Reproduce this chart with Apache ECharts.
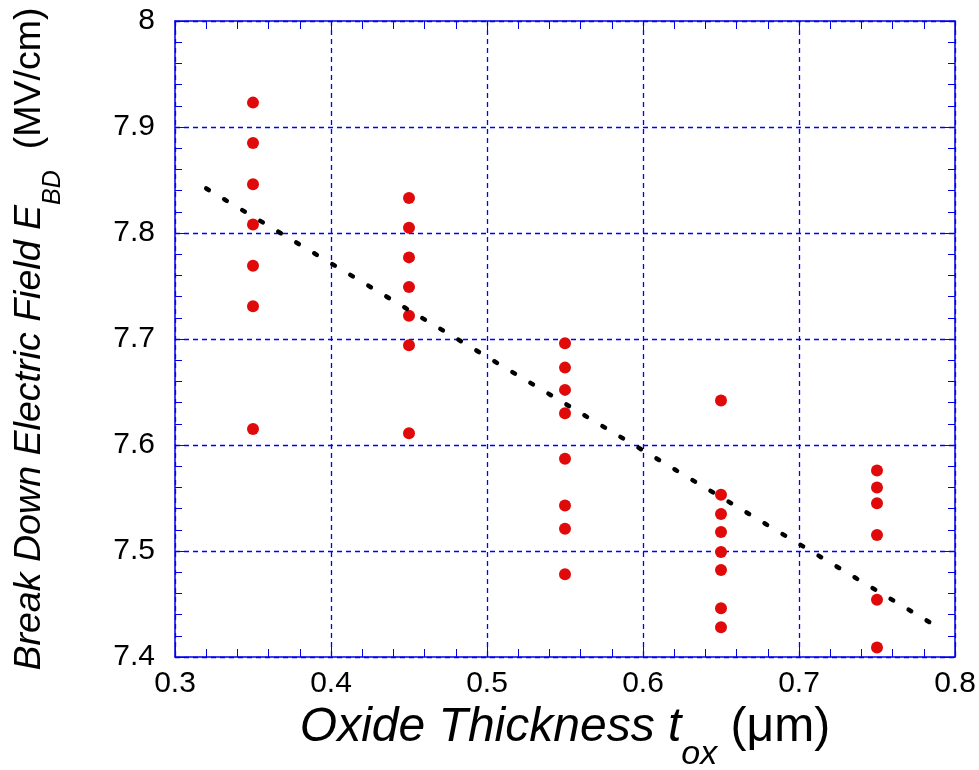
<!DOCTYPE html>
<html>
<head>
<meta charset="utf-8">
<script src="https://cdn.jsdelivr.net/npm/echarts@6/dist/echarts.min.js"></script>
<style>
html,body{margin:0;padding:0;background:#fff;}
#chart{width:979px;height:770px;}
</style>
</head>
<body>
<div id="chart"></div>
<script>
// ---- data ----
var col035 = [7.923, 7.885, 7.846, 7.808, 7.769, 7.731, 7.615];
var col045 = [7.833, 7.805, 7.777, 7.749, 7.722, 7.694, 7.611];
var col055 = [7.696, 7.673, 7.652, 7.630, 7.587, 7.543, 7.521, 7.478];
var col065 = [7.642, 7.553, 7.535, 7.518, 7.499, 7.482, 7.446, 7.428];
var col075 = [7.576, 7.560, 7.545, 7.515, 7.454, 7.409];
var thicknesses = [0.35, 0.45, 0.55, 0.65, 0.75];
var fitX = [0.32, 0.788];
var fitY = [7.842, 7.429];
var xTicks = [0.3, 0.4, 0.5, 0.6, 0.7, 0.8];
var yTicks = [7.4, 7.5, 7.6, 7.7, 7.8, 7.9, 8];

var columns = [col035, col045, col055, col065, col075];
var points = [];
columns.forEach(function (col, i) {
  col.forEach(function (v) { points.push([thicknesses[i], v]); });
});
var fitLine = fitX.map(function (x, i) { return [x, fitY[i]]; });

var FONT = "'Liberation Sans', Arial, sans-serif";
var BLUE = '#0000ee';
var GRID_BLUE = '#0000ff';

var chart = echarts.init(document.getElementById('chart'), null, {renderer: 'canvas'});

function baseX(pos, showLabel) {
  return {
    type: 'value', position: pos, min: xTicks[0], max: xTicks[xTicks.length - 1], interval: 0.1,
    axisLine: {show: true, onZero: false, lineStyle: {color: BLUE, width: 1.5}},
    axisTick: {show: true, inside: true, length: 10, lineStyle: {color: BLUE, width: 1}},
    minorTick: {show: true, splitNumber: 5, length: 8, lineStyle: {color: BLUE, width: 1}},
    axisLabel: {show: showLabel, color: '#000', fontSize: 30, fontFamily: FONT, margin: 12,
      formatter: function (v) { return String(+v.toFixed(1)); }},
    splitLine: {show: showLabel, lineStyle: {color: GRID_BLUE, width: 1.3, type: [5, 4], opacity: 1}},
    minorSplitLine: {show: false}
  };
}
function baseY(pos, showLabel) {
  return {
    type: 'value', position: pos, min: yTicks[0], max: yTicks[yTicks.length - 1], interval: 0.1,
    axisLine: {show: true, onZero: false, lineStyle: {color: BLUE, width: 1.5}},
    axisTick: {show: true, inside: true, length: 10, lineStyle: {color: BLUE, width: 1}},
    minorTick: {show: true, splitNumber: 5, length: 7, lineStyle: {color: BLUE, width: 1}},
    axisLabel: {show: showLabel, color: '#000', fontSize: 30, fontFamily: FONT, margin: 20,
      formatter: function (v) { return String(+v.toFixed(1)); }},
    splitLine: {show: showLabel, lineStyle: {color: GRID_BLUE, width: 1.3, type: [5, 4], opacity: 1}},
    minorSplitLine: {show: false}
  };
}

var xMain = baseX('bottom', true);
xMain.name = '{i|Oxide Thickness t}{s|ox}{n| (\u03bcm)}';
xMain.nameLocation = 'middle';
xMain.nameGap = 36;
xMain.nameTextStyle = {
  color: '#000', fontFamily: FONT,
  rich: {
    i: {fontSize: 48, fontStyle: 'italic', fontFamily: FONT, lineHeight: 48, verticalAlign: 'top', color: '#000'},
    s: {fontSize: 34, fontStyle: 'italic', fontFamily: FONT, lineHeight: 34, padding: [34, 0, 0, 0], verticalAlign: 'top', color: '#000'},
    n: {fontSize: 48, fontFamily: FONT, lineHeight: 48, verticalAlign: 'top', color: '#000'}
  }
};
var yMain = baseY('left', true);
yMain.name = '{i|Break Down Electric Field E}{s|BD}{n|  (MV/cm)}';
yMain.nameLocation = 'middle';
yMain.nameGap = 122;
yMain.nameTextStyle = {
  color: '#000', fontFamily: FONT,
  rich: {
    i: {fontSize: 37.6, fontStyle: 'italic', fontFamily: FONT, lineHeight: 42, verticalAlign: 'top', color: '#000'},
    s: {fontSize: 25, fontStyle: 'italic', fontFamily: FONT, lineHeight: 25, padding: [30, 0, 0, 0], verticalAlign: 'top', color: '#000'},
    n: {fontSize: 37.6, fontFamily: FONT, lineHeight: 42, verticalAlign: 'top', color: '#000'}
  }
};

chart.setOption({
  backgroundColor: '#fff',
  animation: false,
  grid: {left: 175, right: 24, top: 21, bottom: 113, containLabel: false, outerBoundsMode: 'none'},
  xAxis: [xMain, baseX('top', false)],
  yAxis: [yMain, baseY('right', false)],
  series: [
    {
      type: 'scatter', data: points, symbol: 'circle', symbolSize: 12,
      itemStyle: {color: '#e10a0a', opacity: 1}, z: 3
    },
    {
      type: 'line', data: fitLine, symbol: 'none', z: 4,
      lineStyle: {color: '#000', width: 4.5, type: [3, 18], cap: 'round'}
    }
  ]
});
</script>
</body>
</html>
